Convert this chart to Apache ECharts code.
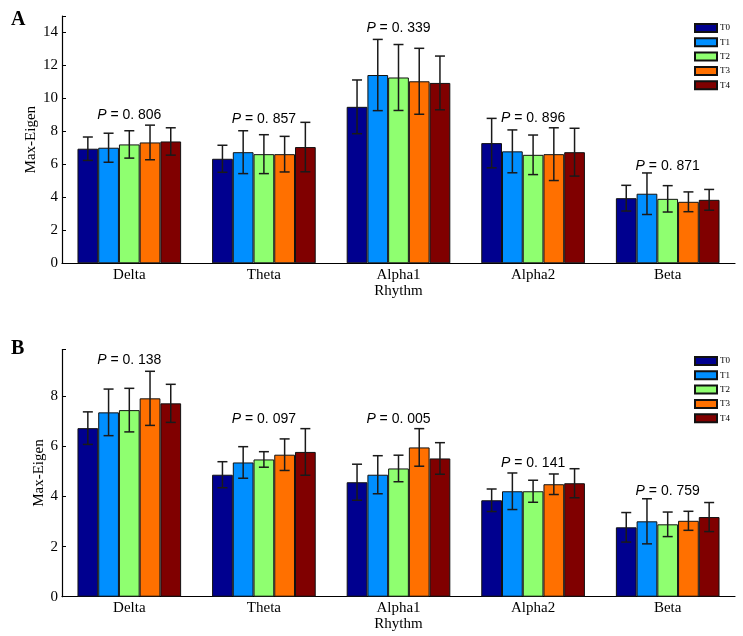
<!DOCTYPE html>
<html>
<head>
<meta charset="utf-8">
<script src="https://cdn.jsdelivr.net/npm/echarts@6/dist/echarts.min.js"></script>
<style>
  html, body { margin: 0; padding: 0; background: #fff; }
  #main { width: 743px; height: 636px; }
</style>
</head>
<body>
<div id="main"></div>
<script>
// categories and groups
var rhythms = ['Delta', 'Theta', 'Alpha1', 'Alpha2', 'Beta'];
var sessions = ['T0', 'T1', 'T2', 'T3', 'T4'];
var colors = ['#00008f', '#008fff', '#8fff70', '#ff7000', '#800000'];

// panel A: mean and SD per session (one row per session, across rhythms)
var meanA = [
  [6.95, 6.34, 9.49, 7.29, 3.95],
  [7.01, 6.74, 11.42, 6.79, 4.22],
  [7.21, 6.62, 11.27, 6.58, 3.91],
  [7.33, 6.62, 11.04, 6.62, 3.73],
  [7.39, 7.05, 10.94, 6.74, 3.85]
];
var sdA = [
  [0.71, 0.82, 1.63, 1.50, 0.78],
  [0.88, 1.30, 2.16, 1.30, 1.26],
  [0.83, 1.18, 2.00, 1.20, 0.80],
  [1.05, 1.08, 2.00, 1.60, 0.60],
  [0.83, 1.50, 1.63, 1.45, 0.63]
];
var pValuesA = ['0. 806', '0. 857', '0. 339', '0. 896', '0. 871'];
var pLevelA = [9.0, 8.77, 14.25, 8.8, 5.9];

// panel B
var meanB = [
  [6.73, 4.87, 4.57, 3.85, 2.77],
  [7.36, 5.36, 4.87, 4.21, 3.01],
  [7.45, 5.48, 5.12, 4.21, 2.89],
  [7.92, 5.67, 5.96, 4.49, 3.03],
  [7.72, 5.78, 5.52, 4.53, 3.18]
];
var sdB = [
  [0.65, 0.52, 0.72, 0.45, 0.59],
  [0.93, 0.63, 0.76, 0.73, 0.90],
  [0.87, 0.31, 0.53, 0.44, 0.49],
  [1.08, 0.63, 0.75, 0.41, 0.38],
  [0.76, 0.93, 0.63, 0.58, 0.58]
];
var pValuesB = ['0. 138', '0. 097', '0. 005', '0. 141', '0. 759'];
var pLevelB = [9.45, 7.08, 7.08, 5.35, 4.23];

var SERIF = '"Liberation Serif", "DejaVu Serif", serif';
var SANS = '"Liberation Sans", Arial, sans-serif';
var catGap = 0.23;

var myChart = echarts.init(document.getElementById('main'));

function xAxisFor(gi) {
  return {
    type: 'category', gridIndex: gi, data: rhythms,
    name: 'Rhythm', nameLocation: 'middle', nameGap: 18,
    nameTextStyle: { fontFamily: SERIF, fontSize: 15, color: '#000' },
    axisLine: { lineStyle: { color: '#000', width: 1.2 } },
    axisTick: { show: false },
    axisLabel: { fontFamily: SERIF, fontSize: 15, color: '#000', margin: 4 }
  };
}

function yAxisFor(gi, max, gap) {
  return {
    type: 'value', gridIndex: gi, min: 0, max: max, interval: 2,
    name: 'Max-Eigen', nameLocation: 'middle', nameGap: gap, nameMoveOverlap: false,
    nameTextStyle: { fontFamily: SERIF, fontSize: 15, color: '#000' },
    splitLine: { show: false },
    axisLine: { show: true, lineStyle: { color: '#000', width: 1.2 } },
    axisTick: { show: true, inside: true, length: 4, lineStyle: { color: '#000' } },
    axisLabel: {
      fontFamily: SERIF, fontSize: 15, color: '#000', margin: 4,
      formatter: function (v) { return v % 2 === 0 ? String(v) : ''; }
    }
  };
}

var series = [];

function addPanel(gi, means, sds, pvals, plevels) {
  sessions.forEach(function (s, si) {
    series.push({
      name: s, type: 'bar', xAxisIndex: gi, yAxisIndex: gi,
      data: means[si], barGap: '0%', barCategoryGap: (catGap * 100) + '%',
      itemStyle: { color: colors[si], borderColor: '#111', borderWidth: 1 },
      emphasis: { disabled: true }
    });
  });

  // error bars
  var errData = [];
  for (var si = 0; si < sessions.length; si++) {
    for (var ci = 0; ci < rhythms.length; ci++) {
      errData.push([ci, si, means[si][ci] - sds[si][ci], means[si][ci] + sds[si][ci]]);
    }
  }
  series.push({
    type: 'custom', xAxisIndex: gi, yAxisIndex: gi, z: 10,
    data: errData, silent: true,
    renderItem: function (params, api) {
      var ci = api.value(0), si = api.value(1);
      var band = api.size([1, 0])[0];
      var bw = band * (1 - catGap) / sessions.length;
      var lo = api.coord([ci, api.value(2)]);
      var hi = api.coord([ci, api.value(3)]);
      var x = lo[0] + (si - (sessions.length - 1) / 2) * bw;
      var cap = 5;
      var st = { stroke: '#1a1a1a', lineWidth: 1.5 };
      return {
        type: 'group', children: [
          { type: 'line', shape: { x1: x, y1: lo[1], x2: x, y2: hi[1] }, style: st },
          { type: 'line', shape: { x1: x - cap, y1: lo[1], x2: x + cap, y2: lo[1] }, style: st },
          { type: 'line', shape: { x1: x - cap, y1: hi[1], x2: x + cap, y2: hi[1] }, style: st }
        ]
      };
    }
  });

  // p value labels
  series.push({
    type: 'custom', xAxisIndex: gi, yAxisIndex: gi, z: 11, silent: true,
    data: rhythms.map(function (r, ci) { return [ci, plevels[ci]]; }),
    renderItem: function (params, api) {
      var pt = api.coord([api.value(0), api.value(1)]);
      return {
        type: 'text', x: pt[0], y: pt[1],
        style: {
          text: '{i|P} = ' + pvals[params.dataIndex],
          rich: { i: { fontStyle: 'italic', fontFamily: SANS, fontSize: 14, fill: '#000' } },
          fontFamily: SANS, fontSize: 14, fill: '#000',
          align: 'center', verticalAlign: 'middle'
        }
      };
    }
  });
}

addPanel(0, meanA, sdA, pValuesA, pLevelA);
addPanel(1, meanB, sdB, pValuesB, pLevelB);

function legendAt(top) {
  return {
    data: sessions, orient: 'vertical', left: 694, top: top,
    itemWidth: 22, itemHeight: 8, itemGap: 4.3, padding: 0,
    icon: 'rect', selectedMode: false,
    textStyle: { fontFamily: SERIF, fontSize: 9, color: '#000', padding: [0, 0, 0, -2] }
  };
}

var option = {
  animation: false,
  backgroundColor: '#fff',
  title: [
    { text: 'A', left: 6, top: 5, textStyle: { fontFamily: SERIF, fontSize: 20, fontWeight: 'bold', color: '#000' } },
    { text: 'B', left: 6, top: 334, textStyle: { fontFamily: SERIF, fontSize: 20, fontWeight: 'bold', color: '#000' } }
  ],
  legend: [legendAt(23), legendAt(356)],
  grid: [
    { left: 62, top: 16, width: 673, height: 247.3 },
    { left: 62, top: 349.5, width: 673, height: 247.2 }
  ],
  xAxis: [xAxisFor(0), xAxisFor(1)],
  yAxis: [yAxisFor(0, 15, 23), yAxisFor(1, 9.87, 15)],
  series: series
};

myChart.setOption(option);
</script>
</body>
</html>
